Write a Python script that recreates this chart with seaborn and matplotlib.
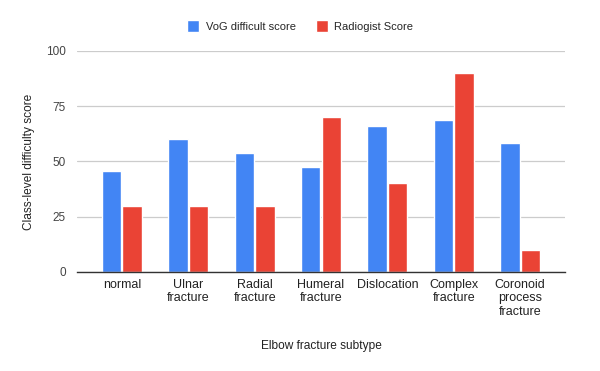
import matplotlib
matplotlib.use("Agg")
import matplotlib.pyplot as plt
import seaborn as sns
import pandas as pd

categories = ["normal", "Ulnar\nfracture", "Radial\nfracture", "Humeral\nfracture",
              "Dislocation", "Complex\nfracture", "Coronoid\nprocess\nfracture"]
vog_scores = [45.5, 60.2, 53.8, 47.5, 66.2, 68.8, 58.5]
radiologist_scores = [30, 30, 30, 70, 40, 90, 10]
series_names = ["VoG difficult score", "Radiogist Score"]
y_ticks = [0, 25, 50, 75, 100]

df = pd.DataFrame({
    "category": categories * 2,
    "score": vog_scores + radiologist_scores,
    "series": [series_names[0]] * len(categories) + [series_names[1]] * len(categories),
})

sns.set_theme(style="white")
plt.rcParams["font.family"] = ["Liberation Sans", "DejaVu Sans"]

fig = plt.figure(figsize=(6, 3.71), dpi=100)
ax = fig.add_axes([0.128, 0.267, 0.814, 0.596])

palette = {series_names[0]: "#4285F4", series_names[1]: "#EA4335"}
sns.barplot(data=df, x="category", y="score", hue="series", palette=palette,
            width=0.62, gap=0.05, ax=ax, saturation=1, legend=True)

ax.set_ylim(0, 100)
ax.set_xlim(-0.68, 6.68)
ax.set_yticks(y_ticks)
ax.yaxis.grid(True, color="#cccccc", linewidth=0.9)
ax.set_axisbelow(True)
for s in ["top", "right", "left"]:
    ax.spines[s].set_visible(False)
ax.spines["bottom"].set_color("#333333")
ax.spines["bottom"].set_linewidth(1.0)
ax.tick_params(axis="x", length=0, labelsize=9, colors="#222222", pad=5)
ax.tick_params(axis="y", length=0, labelsize=8.5, colors="#444444", pad=8)
for t in ax.get_xticklabels():
    t.set_linespacing(1.15)
ax.set_xlabel("Elbow fracture subtype", fontsize=8.6, color="#222222", labelpad=16)
ax.set_ylabel("Class-level difficulty score", fontsize=8.6, color="#222222", labelpad=8)

h, l = ax.get_legend_handles_labels()
ax.legend_.remove()
fig.legend(h, l, loc="center", bbox_to_anchor=(0.5, 0.93), ncol=2, frameon=False,
           fontsize=8, handlelength=1.1, handleheight=1.2, handletextpad=0.6,
           columnspacing=1.8)

fig.savefig("out.png", dpi=100)
